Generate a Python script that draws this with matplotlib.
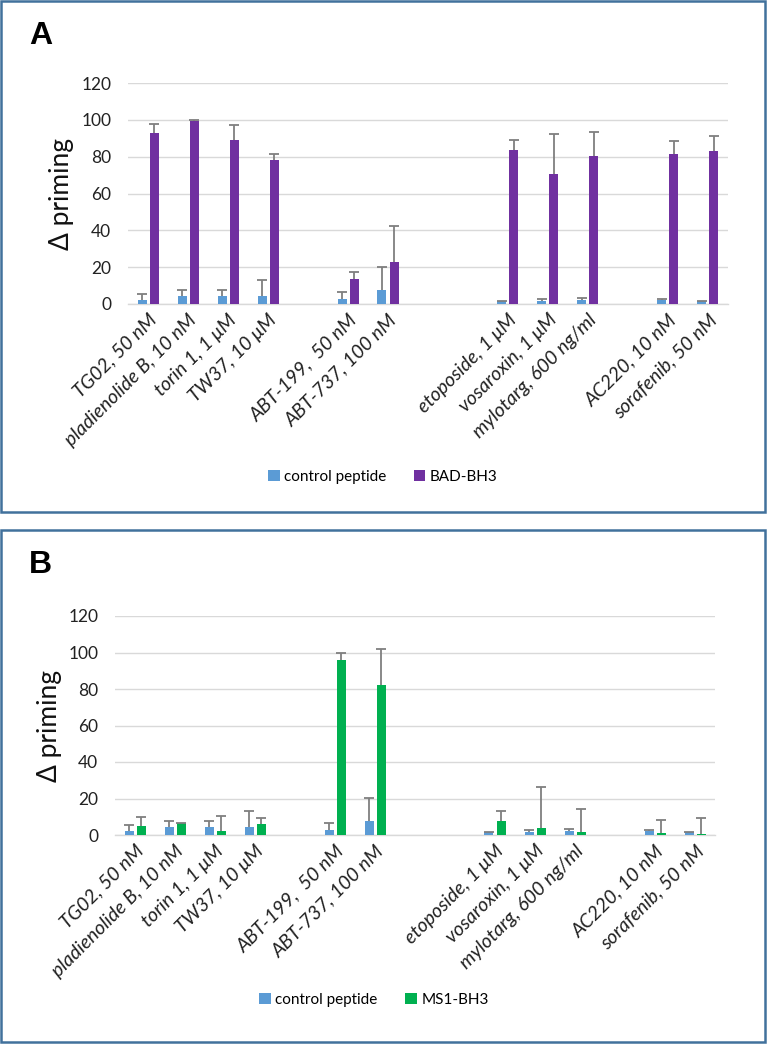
import numpy as np
import matplotlib
matplotlib.use('Agg')
import matplotlib.pyplot as plt
from matplotlib.patches import Rectangle

plt.rcParams['font.family'] = ['Lato', 'DejaVu Sans']

drugs = ['TG02, 50 nM', 'pladienolide B, 10 nM', 'torin 1, 1 \u03bcM', 'TW37, 10 \u03bcM',
         'ABT-199,  50 nM', 'ABT-737, 100 nM',
         'etoposide, 1 \u03bcM', 'vosaroxin, 1 \u03bcM', 'mylotarg, 600 ng/ml',
         'AC220, 10 nM', 'sorafenib, 50 nM']
group_sizes = [4, 2, 3, 2]
gap_slots = [1, 2, 1]

control = [2.4, 4.6, 4.4, 4.5, 2.8, 7.5, 1.5, 1.8, 2.2, 2.0, 1.4]
control_err = [3.1, 3.0, 3.2, 8.4, 3.7, 12.6, 0.4, 1.0, 1.0, 0.8, 0.3]

bad = [93.0, 99.6, 89.0, 78.0, 13.6, 23.0, 83.8, 70.5, 80.5, 81.6, 83.0]
bad_err = [5.0, 0.3, 8.3, 3.6, 3.7, 19.6, 5.2, 22.0, 12.7, 7.0, 8.4]

ms1 = [4.7, 6.5, 2.2, 5.8, 96.0, 82.4, 7.7, 4.0, 1.9, 1.1, 0.7]
ms1_err = [5.0, 0.2, 8.2, 3.6, 3.8, 19.5, 5.4, 22.2, 12.6, 7.3, 8.8]

# slot positions with empty categories between the groups
pos = []
p = 0
for i, n in enumerate(group_sizes):
    for k in range(n):
        pos.append(p)
        p += 1
    if i < len(gap_slots):
        p += gap_slots[i]
pos = np.array(pos, dtype=float)
n_slots = p

W, H = 767, 1044
fig = plt.figure(figsize=(W / 100, H / 100), dpi=100)

BLUE = '#5b9bd5'
GRID = '#d9d9d9'
BORDER = '#41719c'


def panel(rect, letter, letter_xy, series, series_err, color, name, leg_xy, box):
    # box around the panel
    bx0, by0, bx1, by1 = box
    fig.patches.append(Rectangle((bx0 / W, 1 - by1 / H), (bx1 - bx0) / W, (by1 - by0) / H,
                                 transform=fig.transFigure, fill=False,
                                 edgecolor=BORDER, linewidth=1.8))
    left, top, right, bottom = rect
    ax = fig.add_axes([left / W, 1 - bottom / H, (right - left) / W, (bottom - top) / H])
    ekw = dict(ecolor='#7f7f7f', elinewidth=1.3, capsize=3.3, capthick=1.3)
    zeros = np.zeros(len(pos))
    for dx, vals, errs, c, lab in [(-0.15, control, control_err, BLUE, 'control peptide'),
                                   (0.15, series, series_err, color, name)]:
        bc = ax.bar(pos + dx, vals, 0.225, color=c, yerr=[zeros, errs],
                    error_kw=ekw, label=lab, zorder=3)
        # plus-direction only: hide the lower caps sitting on the bar tops
        bc.errorbar.lines[1][0].set_visible(False)
    ax.set_xlim(-0.5, n_slots - 0.5)
    ax.set_ylim(0, 120)
    ax.set_yticks(np.arange(0, 121, 20))
    ax.yaxis.grid(True, color=GRID, linewidth=1.0, zorder=0)
    ax.set_axisbelow(True)
    for s in ['top', 'right', 'left']:
        ax.spines[s].set_visible(False)
    ax.spines['bottom'].set_color(GRID)
    ax.spines['bottom'].set_linewidth(1.0)
    ax.tick_params(axis='y', length=0, pad=12, labelsize=12.5, labelcolor='#222222')
    ax.tick_params(axis='x', length=0, pad=5)
    ax.set_xticks(pos)
    ax.set_xticklabels(drugs, rotation=45, ha='right', va='top', rotation_mode='anchor',
                       fontsize=14, style='italic', color='#222222')
    fig.text((left - 66) / W, 1 - (top + bottom) / 2 / H, '\u0394 priming', rotation=90,
             ha='center', va='center', fontsize=19, color='#111111')
    fig.text(letter_xy[0] / W, 1 - letter_xy[1] / H, letter, fontsize=23, fontweight='bold',
             family='Liberation Sans', ha='left', va='baseline')
    fig.legend(*ax.get_legend_handles_labels(), loc='center',
               bbox_to_anchor=(leg_xy[0] / W, 1 - leg_xy[1] / H), ncol=2, frameon=False,
               fontsize=11, handlelength=0.75, handleheight=0.75, handletextpad=0.3,
               columnspacing=1.8)
    return ax


panel((128, 83, 728, 304), 'A', (29, 44), bad, bad_err, '#7030a0', 'BAD-BH3',
      (383, 477), (1, 1, 765, 512))
panel((115, 616, 715, 835), 'B', (29, 573), ms1, ms1_err, '#00b050', 'MS1-BH3',
      (374, 1000), (1, 530, 765, 1042))

fig.savefig('out.png', dpi=100)
